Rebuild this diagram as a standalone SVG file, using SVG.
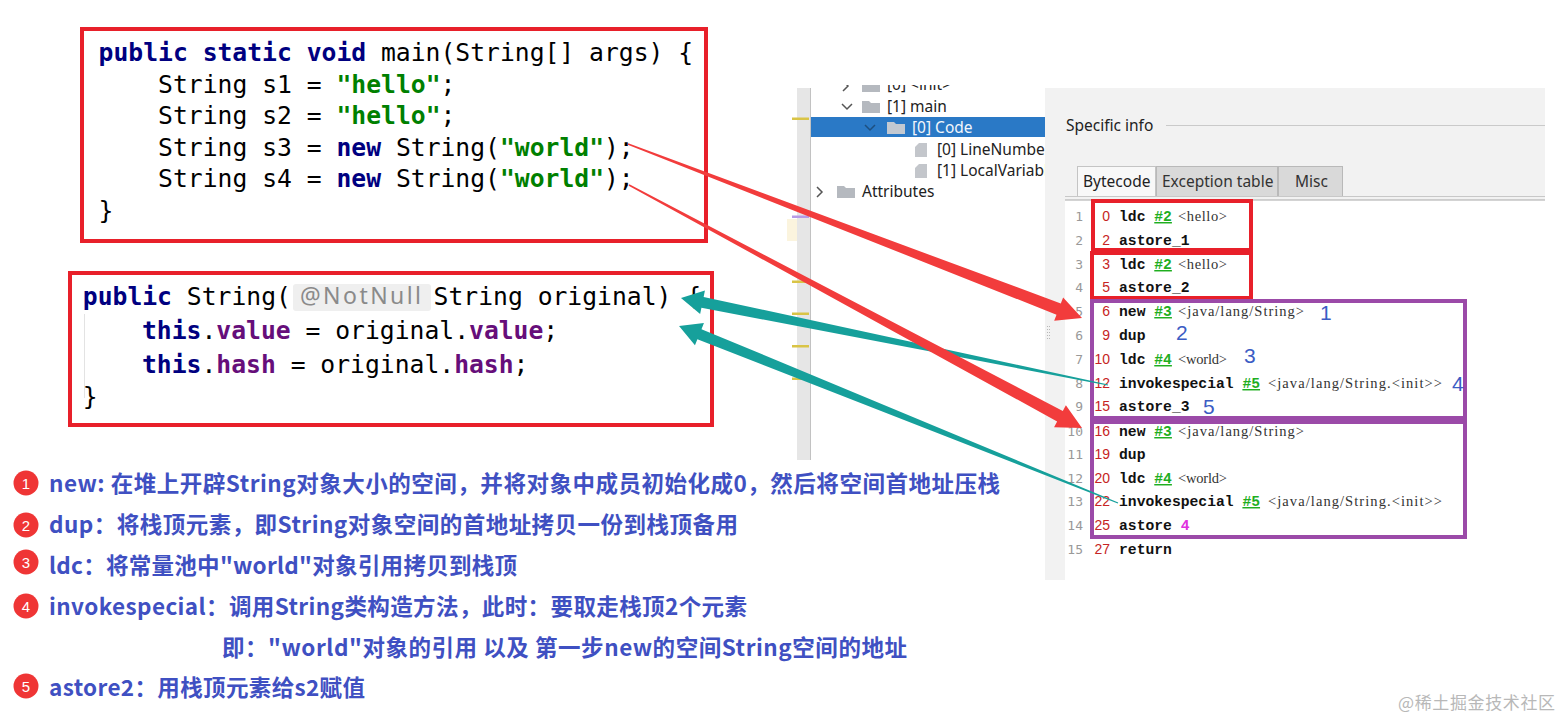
<svg xmlns="http://www.w3.org/2000/svg" width="1563" height="720" viewBox="0 0 1563 720">
<defs>
<clipPath id="treeClip"><rect x="811" y="85" width="234" height="378"/></clipPath>
<style>
.code{font-family:"DejaVu Sans Mono",monospace;font-size:24.7px;fill:#000;white-space:pre}
.kw{fill:#000080;font-weight:bold}
.str{fill:#008000;font-weight:bold}
.fld{fill:#660e7a;font-weight:bold}
.box-red{fill:none;stroke:#e8202a;stroke-width:4}
.box-pur{fill:none;stroke:#9b4aa8;stroke-width:4}
.tree{font-family:"Noto Sans",sans-serif;font-size:15.5px;fill:#222}
.folder{fill:#b5b9bf}
.file{fill:#c3c6cb}
.chev{fill:none;stroke:#555;stroke-width:1.5}
.ui{font-family:"Noto Sans",sans-serif;font-size:15.5px;fill:#222}
.ln{font-family:"DejaVu Sans Mono",monospace;font-size:13px;fill:#999;text-anchor:end}
.off{font-family:"Liberation Sans",sans-serif;font-size:14px;fill:#c62424;text-anchor:end}
.op{font-family:"Liberation Mono",monospace;font-size:14.7px;font-weight:bold;fill:#111;white-space:pre}
.ref{fill:#1fae1f;text-decoration:underline}
.arg{font-family:"Liberation Serif",serif;font-size:14.5px;fill:#333}
.step{font-family:"Liberation Sans",sans-serif;font-size:21px;fill:#3b5cc4}
.note{font-family:"Noto Sans CJK SC",sans-serif;font-size:22.5px;font-weight:bold;fill:#3f50c2;white-space:pre}
.badge{fill:#ef3535}
.badge-t{font-family:"Liberation Sans",sans-serif;font-size:15px;fill:#fff;text-anchor:middle}
.red-arrow{fill:#f23c3c}
.teal-arrow{fill:#16a09b}
.mark{fill:#d9c446}
</style>
</defs>
<rect width="1563" height="720" fill="#fff"/>

<!-- IDE tree panel -->
<g id="ide-tree">
  <rect x="797" y="88" width="13" height="372" fill="#e6e6e6"/>
  <line x1="810.5" y1="88" x2="810.5" y2="460" stroke="#c2c2c2" stroke-width="1"/>
  <rect x="787" y="219" width="10" height="22" fill="#fbf4de"/>
  <rect class="mark" x="792" y="117.5" width="17" height="2.5"/>
  <rect x="792" y="215.5" width="17" height="2.5" fill="#b79be6"/>
  <rect class="mark" x="792" y="280.5" width="17" height="2.5"/>
  <rect class="mark" x="792" y="312.5" width="17" height="2.5"/>
  <rect class="mark" x="792" y="345" width="17" height="2.5"/>
  <rect class="mark" x="792" y="377.5" width="17" height="2.5"/>
  <g clip-path="url(#treeClip)">
    <polyline class="chev" points="843,81 848,86 843,91"/>
    <path class="folder" d="M862,80 h7 l2,2 h9 v10 h-18 z"/>
    <text class="tree" x="887" y="90">[0] &lt;init&gt;</text>
    <polyline class="chev" points="842,104 847,109 852,104"/>
    <path class="folder" d="M862,101 h7 l2,2 h9 v10 h-18 z"/>
    <text class="tree" x="887" y="112">[1] main</text>
    <rect x="811" y="117" width="234" height="20" fill="#2a79c6"/>
    <polyline points="865,125 870,130 875,125" fill="none" stroke="#1d4f80" stroke-width="1.5"/>
    <path d="M887,122 h7 l2,2 h9 v10 h-18 z" fill="#c3c9d1"/>
    <text class="tree" x="912" y="133" style="fill:#f2f6fb">[0] Code</text>
    <path class="file" d="M915,157 V147 L919,143 H927 V157 Z"/>
    <text class="tree" x="937" y="155">[0] LineNumber</text>
    <path class="file" d="M915,178 V168 L919,164 H927 V178 Z"/>
    <text class="tree" x="937" y="176">[1] LocalVariabl</text>
    <polyline class="chev" points="817,187 822,192 817,197"/>
    <path class="folder" d="M837,186 h7 l2,2 h9 v10 h-18 z"/>
    <text class="tree" x="862" y="197">Attributes</text>
  </g>
</g>

<!-- Bytecode panel -->
<g id="bytecode-panel">
  <rect x="1045" y="88" width="500" height="492" fill="#f2f2f2"/>
  <rect x="1065" y="200" width="480" height="380" fill="#fff"/>
  <g fill="#b8b8b8">
    <rect x="1047" y="326" width="1" height="1"/><rect x="1049" y="326" width="1" height="1"/>
    <rect x="1047" y="329" width="1" height="1"/><rect x="1049" y="329" width="1" height="1"/>
    <rect x="1047" y="332" width="1" height="1"/><rect x="1049" y="332" width="1" height="1"/>
    <rect x="1047" y="335" width="1" height="1"/><rect x="1049" y="335" width="1" height="1"/>
    <rect x="1047" y="338" width="1" height="1"/><rect x="1049" y="338" width="1" height="1"/>
  </g>
  <text class="ui" x="1066" y="131">Specific info</text>
  <line x1="1166" y1="125.5" x2="1545" y2="125.5" stroke="#cacaca" stroke-width="1"/>
  <rect x="1077.5" y="166.5" width="78" height="30" fill="#f8f8f8" stroke="#c4c4c4"/>
  <rect x="1156.5" y="166.5" width="121" height="30" fill="#d9d9d9" stroke="#b9b9b9"/>
  <rect x="1278.5" y="166.5" width="64" height="30" fill="#d9d9d9" stroke="#b9b9b9"/>
  <text class="ui" x="1083" y="187">Bytecode</text>
  <text class="ui" x="1162" y="187" style="fill:#333">Exception table</text>
  <text class="ui" x="1295" y="187" style="fill:#333">Misc</text>
  <line x1="1065" y1="196.5" x2="1545" y2="196.5" stroke="#c8c8c8"/>
  <line x1="1065" y1="200" x2="1545" y2="200" stroke="#a8a8a8"/>

  <g id="line-numbers">
    <text class="ln" x="1083" y="221">1</text>
    <text class="ln" x="1083" y="245">2</text>
    <text class="ln" x="1083" y="269">3</text>
    <text class="ln" x="1083" y="292">4</text>
    <text class="ln" x="1083" y="316">5</text>
    <text class="ln" x="1083" y="340">6</text>
    <text class="ln" x="1083" y="364">7</text>
    <text class="ln" x="1083" y="388">8</text>
    <text class="ln" x="1083" y="411">9</text>
    <text class="ln" x="1083" y="436">10</text>
    <text class="ln" x="1083" y="459">11</text>
    <text class="ln" x="1083" y="483">12</text>
    <text class="ln" x="1083" y="506">13</text>
    <text class="ln" x="1083" y="530">14</text>
    <text class="ln" x="1083" y="554">15</text>
  </g>
  <g id="offsets">
    <text class="off" x="1110" y="221">0</text>
    <text class="off" x="1110" y="245">2</text>
    <text class="off" x="1110" y="269">3</text>
    <text class="off" x="1110" y="292">5</text>
    <text class="off" x="1110" y="316">6</text>
    <text class="off" x="1110" y="340">9</text>
    <text class="off" x="1110" y="364">10</text>
    <text class="off" x="1110" y="388">12</text>
    <text class="off" x="1110" y="411">15</text>
    <text class="off" x="1110" y="436">16</text>
    <text class="off" x="1110" y="459">19</text>
    <text class="off" x="1110" y="483">20</text>
    <text class="off" x="1110" y="506">22</text>
    <text class="off" x="1110" y="530">25</text>
    <text class="off" x="1110" y="554">27</text>
  </g>
  <g id="opcodes">
    <text class="op" x="1119" y="221">ldc <tspan class="ref">#2</tspan></text>
    <text class="arg" x="1178" y="221" textLength="49" lengthAdjust="spacing">&lt;hello&gt;</text>
    <text class="op" x="1119" y="245">astore_1</text>
    <text class="op" x="1119" y="269">ldc <tspan class="ref">#2</tspan></text>
    <text class="arg" x="1178" y="269" textLength="49" lengthAdjust="spacing">&lt;hello&gt;</text>
    <text class="op" x="1119" y="292">astore_2</text>
    <text class="op" x="1119" y="316">new <tspan class="ref">#3</tspan></text>
    <text class="arg" x="1178" y="316" textLength="126" lengthAdjust="spacing">&lt;java/lang/String&gt;</text>
    <text class="op" x="1119" y="340">dup</text>
    <text class="op" x="1119" y="364">ldc <tspan class="ref">#4</tspan></text>
    <text class="arg" x="1178" y="364" textLength="49" lengthAdjust="spacing">&lt;world&gt;</text>
    <text class="op" x="1119" y="388">invokespecial <tspan class="ref">#5</tspan></text>
    <text class="arg" x="1268" y="388" textLength="174" lengthAdjust="spacing">&lt;java/lang/String.&lt;init&gt;&gt;</text>
    <text class="op" x="1119" y="411">astore_3</text>
    <text class="op" x="1119" y="436">new <tspan class="ref">#3</tspan></text>
    <text class="arg" x="1178" y="436" textLength="126" lengthAdjust="spacing">&lt;java/lang/String&gt;</text>
    <text class="op" x="1119" y="459">dup</text>
    <text class="op" x="1119" y="483">ldc <tspan class="ref">#4</tspan></text>
    <text class="arg" x="1178" y="483" textLength="49" lengthAdjust="spacing">&lt;world&gt;</text>
    <text class="op" x="1119" y="506">invokespecial <tspan class="ref">#5</tspan></text>
    <text class="arg" x="1268" y="506" textLength="174" lengthAdjust="spacing">&lt;java/lang/String.&lt;init&gt;&gt;</text>
    <text class="op" x="1119" y="530">astore <tspan style="fill:#e030e0">4</tspan></text>
    <text class="op" x="1119" y="554">return</text>
  </g>
</g>

<g id="box-s1"><rect class="box-red" x="1093" y="201" width="158" height="49"/></g>
<g id="box-s2"><rect class="box-red" x="1092" y="253" width="159" height="45"/></g>
<g id="box-s3">
  <rect class="box-pur" x="1092" y="301" width="373" height="117"/>
  <text class="step" x="1320" y="320">1</text>
  <text class="step" x="1176" y="340">2</text>
  <text class="step" x="1244" y="363">3</text>
  <text class="step" x="1452" y="391">4</text>
  <text class="step" x="1203" y="414">5</text>
</g>
<g id="box-s4"><rect class="box-pur" x="1092" y="422" width="373" height="115"/></g>

<!-- main method source -->
<g id="code-main">
  <rect class="box-red" x="82" y="29" width="624" height="212"/>
  <text class="code" x="98.6" y="61"><tspan class="kw">public static void</tspan> main(String[] args) {</text>
  <text class="code" x="158.1" y="92.5">String s1 = <tspan class="str">"hello"</tspan>;</text>
  <text class="code" x="158.1" y="124">String s2 = <tspan class="str">"hello"</tspan>;</text>
  <text class="code" x="158.1" y="155.5">String s3 = <tspan class="kw">new</tspan> String(<tspan class="str">"world"</tspan>);</text>
  <text class="code" x="158.1" y="187">String s4 = <tspan class="kw">new</tspan> String(<tspan class="str">"world"</tspan>);</text>
  <text class="code" x="98.6" y="219">}</text>
</g>

<!-- String constructor source -->
<g id="code-ctor">
  <rect class="box-red" x="70" y="273" width="642" height="152"/>
  <line x1="84.5" y1="314" x2="84.5" y2="398" stroke="#e3e3e3" stroke-width="1"/>
  <text class="code" x="82.8" y="305"><tspan class="kw">public</tspan> String(</text>
  <rect x="293" y="284" width="138" height="27" rx="3" fill="#efefef"/>
  <text x="300" y="304" font-family="Noto Sans, sans-serif" font-size="23" fill="#8a8a8a" textLength="121" lengthAdjust="spacing">@NotNull</text>
  <text class="code" x="433.6" y="305">String original) {</text>
  <text class="code" x="142" y="339"><tspan class="kw">this</tspan>.<tspan class="fld">value</tspan> = original.<tspan class="fld">value</tspan>;</text>
  <text class="code" x="142" y="373"><tspan class="kw">this</tspan>.<tspan class="fld">hash</tspan> = original.<tspan class="fld">hash</tspan>;</text>
  <text class="code" x="82.8" y="405">}</text>
</g>

<!-- legend notes -->
<g id="note-1">
  <circle class="badge" cx="26" cy="483" r="12.5"/><text class="badge-t" x="26" y="488.5">1</text>
  <text class="note" x="49" y="492" textLength="951" lengthAdjust="spacing">new: 在堆上开辟String对象大小的空间，并将对象中成员初始化成0，然后将空间首地址压栈</text>
</g>
<g id="note-2">
  <circle class="badge" cx="26" cy="525" r="12.5"/><text class="badge-t" x="26" y="530.5">2</text>
  <text class="note" x="49" y="533" textLength="689" lengthAdjust="spacing">dup：将栈顶元素，即String对象空间的首地址拷贝一份到栈顶备用</text>
</g>
<g id="note-3">
  <circle class="badge" cx="26" cy="562" r="12.5"/><text class="badge-t" x="26" y="567.5">3</text>
  <text class="note" x="49" y="574" textLength="468" lengthAdjust="spacing">ldc：将常量池中"world"对象引用拷贝到栈顶</text>
</g>
<g id="note-4">
  <circle class="badge" cx="26" cy="606" r="12.5"/><text class="badge-t" x="26" y="611.5">4</text>
  <text class="note" x="49" y="615" textLength="698" lengthAdjust="spacing">invokespecial：调用String类构造方法，此时：要取走栈顶2个元素</text>
  <text class="note" x="222" y="656" textLength="685" lengthAdjust="spacing">即："world"对象的引用 以及 第一步new的空间String空间的地址</text>
</g>
<g id="note-5">
  <circle class="badge" cx="26" cy="686" r="12.5"/><text class="badge-t" x="26" y="691.5">5</text>
  <text class="note" x="49" y="696" textLength="316" lengthAdjust="spacing">astore2：用栈顶元素给s2赋值</text>
</g>

<!-- connectors -->
<g id="connectors">
  <polygon class="teal-arrow" transform="translate(1108,385) rotate(191.52)" points="0,-0.6 413.8,-5.5 413.8,-12 435.8,0 413.8,12 413.8,5.5 0,0.6"/>
  <polygon class="teal-arrow" transform="translate(1118,503) rotate(201.96)" points="0,-0.6 451.3,-5.5 451.3,-12 473.3,0 451.3,12 451.3,5.5 0,0.6"/>
  <polygon class="red-arrow" transform="translate(628,144) rotate(20.97)" points="0,-0.75 461.2,-6 461.2,-12.5 486.2,0 461.2,12.5 461.2,6 0,0.75"/>
  <polygon class="red-arrow" transform="translate(629,185) rotate(28.21)" points="0,-0.75 489.06,-6 489.06,-12.5 514.06,0 489.06,12.5 489.06,6 0,0.75"/>
</g>

<g id="watermark">
  <text x="1398" y="709" font-family="Noto Sans CJK SC, sans-serif" font-size="17" fill="#b8b8b8" textLength="157" lengthAdjust="spacing">@稀土掘金技术社区</text>
</g>
</svg>
